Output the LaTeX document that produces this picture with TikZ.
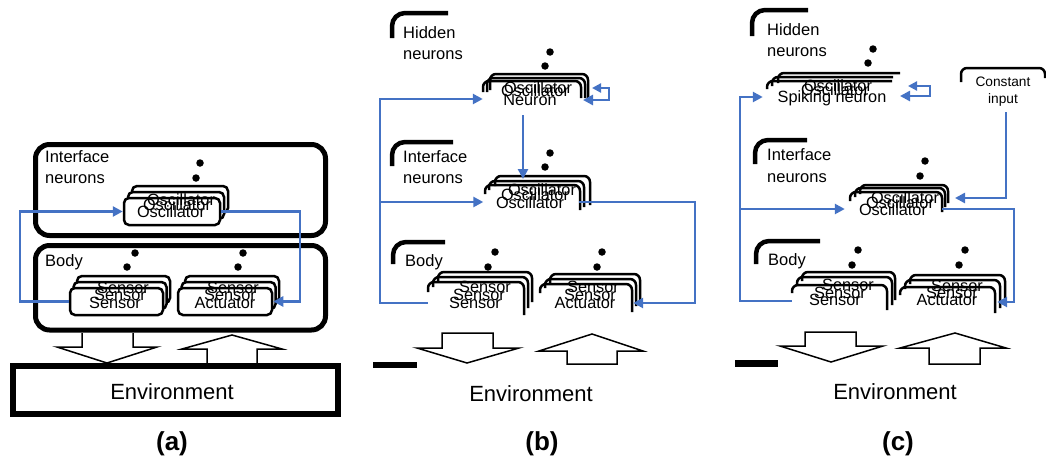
\documentclass[tikz,border=0pt]{standalone}
\usepackage{fontspec}
\setmainfont{Liberation Sans}
\usetikzlibrary{arrows.meta}
\definecolor{blu}{HTML}{4472C4}
\begin{document}
\begin{tikzpicture}[x=1pt,y=-1pt,
 lbl/.style={anchor=west,inner sep=0pt,text height=11.5pt,text depth=0.5pt,font=\fontsize{16.5}{18}\selectfont},
 txt/.style={inner sep=0pt,text height=11.5pt,text depth=0.5pt,font=\fontsize{16.3}{18}\selectfont},
 small/.style={inner sep=0pt,text height=10pt,text depth=0.5pt,font=\fontsize{13.7}{15}\selectfont},
 big/.style={inner sep=0pt,text height=15pt,text depth=0pt,font=\fontsize{22}{24}\selectfont},
 captxt/.style={inner sep=0pt,text height=16pt,text depth=2pt,font=\bfseries\fontsize{26}{28}\selectfont},
 blk/.style={draw=black,line width=5pt,rounded corners=14pt},
 ibox/.style={draw=black,fill=white,line width=2.5pt,rounded corners=5pt,inner sep=0pt},
 anch/.style={inner sep=0pt},
 stk/.style={draw=black,line width=2.5pt,rounded corners=6pt},
 brk/.style={draw=black,line width=4.5pt,rounded corners=13pt},
 fb/.style={draw=blu,line width=2.8pt,-{Triangle[length=10pt,width=10pt]}},
 fbb/.style={draw=blu,line width=2.8pt,{Triangle[length=9pt,width=9pt]}-{Triangle[length=10pt,width=10pt]}},
 dot/.style={fill=black,circle,inner sep=0pt,minimum size=7.5pt},
 bigarrow/.style={draw=black,line width=1.5pt,fill=white,line join=miter},
]
\useasboundingbox (0,0) rectangle (1046,463);

%%%%%%%%%%%%%%%% (a)
\draw[bigarrow] (82,333) -- (82,347) -- (57,347) -- (107,363) -- (157,347) -- (133,347) -- (133,333);
\draw[bigarrow] (207,364) -- (207,349) -- (182,349) -- (232,335) -- (282,349) -- (257,349) -- (257,364);
\draw[blk] (35.5,144.5) rectangle (325.5,235.5);
\draw[blk] (35.5,245.5) rectangle (325.5,330);
\draw[line width=6pt] (13,365.5) rectangle (338,414);
\node[big] (aenv) at (172,392) {Environment};
\node[captxt] (acap) at (172,443) {(a)};

\node[lbl] (aif1) at (45,157) {Interface};
\node[lbl] (aif2) at (45,178) {neurons};
\node[lbl] (abody) at (45,261) {Body};

\node[dot] (ad1) at (200,163) {};
\node[dot] (ad2) at (196,178) {};
\node[dot] (ad3) at (135,253) {};
\node[dot] (ad4) at (127,267) {};
\node[dot] (ad5) at (243,253) {};
\node[dot] (ad6) at (238,267) {};

\node[ibox,minimum width=96pt,minimum height=27pt] (aosc3) at (180,199.5) {};
\node[ibox,minimum width=96pt,minimum height=27pt] (aosc2) at (176,205.5) {};
\node[ibox,minimum width=96pt,minimum height=27pt] (aosc) at (172,211.5) {};
\node[ibox,minimum width=93pt,minimum height=27pt] (asen3) at (123.5,289.5) {};
\node[ibox,minimum width=93pt,minimum height=27pt] (asen2) at (120,295.5) {};
\node[ibox,minimum width=93pt,minimum height=27pt] (asen) at (116.5,301.5) {};
\node[ibox,minimum width=94pt,minimum height=27pt] (aact3) at (232,289.5) {};
\node[ibox,minimum width=94pt,minimum height=27pt] (aact2) at (228.5,295.5) {};
\node[ibox,minimum width=94pt,minimum height=27pt] (aact) at (225,301.5) {};

\node[txt] (aot3) at (181,200) {Oscillator};
\node[txt] (aot2) at (177,205) {Oscillator};
\node[txt] (aot1) at (171,212) {Oscillator};
\node[txt] (ast3) at (123,288) {Sensor};
\node[txt] (ast2) at (120,295) {Sensor};
\node[txt] (ast1) at (115,303) {Sensor};
\node[txt] (aat3) at (233,288) {Sensor};
\node[txt] (aat2) at (230,295) {Sensor};
\node[txt] (aat1) at (225,303) {Actuator};

\draw[fb] (asen.west) -- (20,301.5) |- (aosc.west);
\draw[fb] (aosc.east) -- (300,211.5) |- (aact.east);

%%%%%%%%%%%%%%%% (b)
\draw[brk] (392,38) -- (392,13) -- (448,13);
\node[lbl] (bhid1) at (403,33) {Hidden};
\node[lbl] (bhid2) at (403,54) {neurons};
\node[dot] (bd1) at (550,52) {};
\node[dot] (bd2) at (545,66) {};

\draw[stk] (490,90) -- (490,74) -- (588,74) -- (588,98);
\draw[stk] (487,92) -- (487,78) -- (585,78) -- (585,98);
\draw[stk] (483,92) -- (483,81) -- (581,81) -- (581,98);
\node[txt] (bnt3) at (538,88) {Oscillator};
\node[txt] (bnt2) at (535,91) {Oscillator};
\node[txt] (bnt1) at (530,100) {Neuron};
\node[anch,minimum width=98pt,minimum height=20pt] (bneu) at (532,99) {};

\draw[brk] (392,166) -- (392,142) -- (453,142);
\node[lbl] (bif1) at (403,157) {Interface};
\node[lbl] (bif2) at (403,178) {neurons};
\node[dot] (bd3) at (550,153) {};
\node[dot] (bd4) at (545,167) {};

\draw[stk] (495,186) -- (495,176) -- (590,176) -- (590,205);
\draw[stk] (489,190) -- (489,181) -- (584,181) -- (584,207);
\draw[stk] (485,194) -- (485,185) -- (580,185) -- (580,210);
\node[txt] (bot3) at (542,190) {Oscillator};
\node[txt] (bot2) at (535,195) {Oscillator};
\node[txt] (bot1) at (530,203) {Oscillator};
\node[anch,minimum width=95pt,minimum height=20pt] (bosc) at (531,202) {};

\draw[brk] (393,264) -- (393,242) -- (445,242);
\node[lbl] (bbody) at (405,261) {Body};
\node[dot] (bd5) at (495,252) {};
\node[dot] (bd6) at (488,267) {};
\node[dot] (bd7) at (602,252) {};
\node[dot] (bd8) at (597,267) {};

\draw[stk] (438,282) -- (438,272) -- (532,272) -- (532,302);
\draw[stk] (433,287) -- (433,277) -- (528,277) -- (528,308);
\draw[stk] (428,292) -- (428,282) -- (524,282) -- (524,315);
\node[txt] (bst3) at (485,287) {Sensor};
\node[txt] (bst2) at (479,295) {Sensor};
\node[txt] (bst1) at (475,303) {Sensor};
\node[anch,minimum width=96pt,minimum height=20pt] (bsen) at (476,303) {};

\draw[stk] (550,283) -- (550,274) -- (640,274) -- (640,300);
\draw[stk] (545,288) -- (545,279) -- (636,279) -- (636,306);
\draw[stk] (540,293) -- (540,284) -- (632,284) -- (632,312);
\node[txt] (bat3) at (593,287) {Sensor};
\node[txt] (bat2) at (590,295) {Sensor};
\node[txt] (bat1) at (585,303) {Actuator};
\node[anch,minimum width=94pt,minimum height=20pt] (bact) at (586,303) {};

\coordinate (bj) at (380,202);
\draw[fb] (bsen.west) -- (380,303) |- (bneu.west);
\draw[fb] (bj) -- (bosc.west);
\coordinate (bs1) at (592,88);
\coordinate (bs2) at (583,100);
\draw[fbb] (bs1) -- (609,88) -- (609,100) -- (bs2);
\coordinate (bdn1) at (523,115);
\coordinate (bdn2) at (523,179);
\draw[fb] (bdn1) -- (bdn2);
\draw[fb] (bosc.east) -- (695,202) |- (bact.east);

\draw[bigarrow] (442,333) -- (442,348) -- (417,348) -- (467,363) -- (519,348) -- (493,348) -- (493,333) -- cycle;
\draw[bigarrow] (567,364) -- (567,351) -- (539,351) -- (592,334) -- (643,351) -- (617,351) -- (617,364) -- cycle;
\fill (373,362) rectangle (417,368);
\node[big] (benv) at (531,394) {Environment};
\node[captxt] (bcap) at (542,443) {(b)};

%%%%%%%%%%%%%%%% (c)
\draw[brk] (752,36) -- (752,10) -- (808,10);
\node[lbl] (chid1) at (767,30) {Hidden};
\node[lbl] (chid2) at (767,51) {neurons};
\node[dot] (cd1) at (873,49) {};
\node[dot] (cd2) at (868,63) {};

\draw[stk] (778,83) -- (778,73) -- (900,73);
\draw[stk] (772,86) -- (772,77) -- (893,77);
\draw[stk] (767,89) -- (767,81) -- (892,81);
\node[txt] (cnt3) at (838,86) {Oscillator};
\node[txt] (cnt2) at (835,90) {Oscillator};
\node[txt] (cnt1) at (832,97) {Spiking neuron};
\node[anch,minimum width=137pt,minimum height=20pt] (cspk) at (831.5,97) {};
\coordinate (cs1) at (908,86);
\coordinate (cs2) at (900,96);
\draw[fbb] (cs1) -- (930,86) -- (930,96) -- (cs2);

\draw[stk] (961,82) -- (961,68) -- (1045,68) -- (1045,78);
\node[small] (cci1) at (1003,82) {Constant};
\node[small] (cci2) at (1003,99) {input};
\coordinate (cci) at (1006,112);

\draw[brk] (755,164) -- (755,140) -- (807,140);
\node[lbl] (cif1) at (767,155) {Interface};
\node[lbl] (cif2) at (767,177) {neurons};
\node[dot] (cd3) at (925,161) {};
\node[dot] (cd4) at (920,176) {};

\draw[stk] (860,194) -- (860,185) -- (948,185) -- (948,203);
\draw[stk] (855,197) -- (855,188) -- (945,188) -- (945,207);
\draw[stk] (850,201) -- (850,192) -- (942,192) -- (942,212);
\node[txt] (cot3) at (905,198) {Oscillator};
\node[txt] (cot2) at (900,203) {Oscillator};
\node[txt] (cot1) at (893,210) {Oscillator};
\node[anch,minimum width=97pt,minimum height=20pt] (cosc) at (893.5,209) {};
\coordinate (coin) at (955,198);

\draw[brk] (756,264) -- (756,241) -- (820,241);
\node[lbl] (cbody) at (768,260) {Body};
\node[dot] (cd5) at (858,250) {};
\node[dot] (cd6) at (852,265) {};
\node[dot] (cd7) at (965,250) {};
\node[dot] (cd8) at (959,265) {};

\draw[stk] (802,281) -- (802,272) -- (895,272) -- (895,300);
\draw[stk] (797,286) -- (797,277) -- (892,277) -- (892,305);
\draw[stk] (792,293) -- (792,285) -- (887,285) -- (887,310);
\node[txt] (cst3) at (848,285) {Sensor};
\node[txt] (cst2) at (840,293) {Sensor};
\node[txt] (cst1) at (835,300) {Sensor};
\node[anch,minimum width=94pt,minimum height=20pt] (csen) at (839,301) {};

\draw[stk] (910,284) -- (910,275) -- (1005,275) -- (1005,303);
\draw[stk] (905,289) -- (905,280) -- (1000,280) -- (1000,308);
\draw[stk] (900,295) -- (900,287) -- (995,287) -- (995,313);
\node[txt] (cat3) at (957,286) {Sensor};
\node[txt] (cat2) at (952,293) {Sensor};
\node[txt] (cat1) at (947,300) {Actuator};
\node[anch,minimum width=96pt,minimum height=20pt] (cact) at (949,302) {};

\coordinate (cj) at (740,209);
\draw[fb] (csen.west) -- (740,301) |- (cspk.west);
\draw[fb] (cj) -- (cosc.west);
\draw[fb] (cosc.east) -- (1014,209) |- (cact.east);
\draw[fb] (cci) |- (coin);

\draw[bigarrow] (805,332) -- (805,346) -- (780,346) -- (831,362) -- (883,346) -- (856,346) -- (856,332) -- cycle;
\draw[bigarrow] (929,364) -- (929,348) -- (900,348) -- (955,333) -- (1006,348) -- (980,348) -- (980,364) -- cycle;
\fill (735,360) rectangle (778,367);
\node[big] (cenv) at (895,392) {Environment};
\node[captxt] (ccap) at (898,443) {(c)};
\end{tikzpicture}
\end{document}
